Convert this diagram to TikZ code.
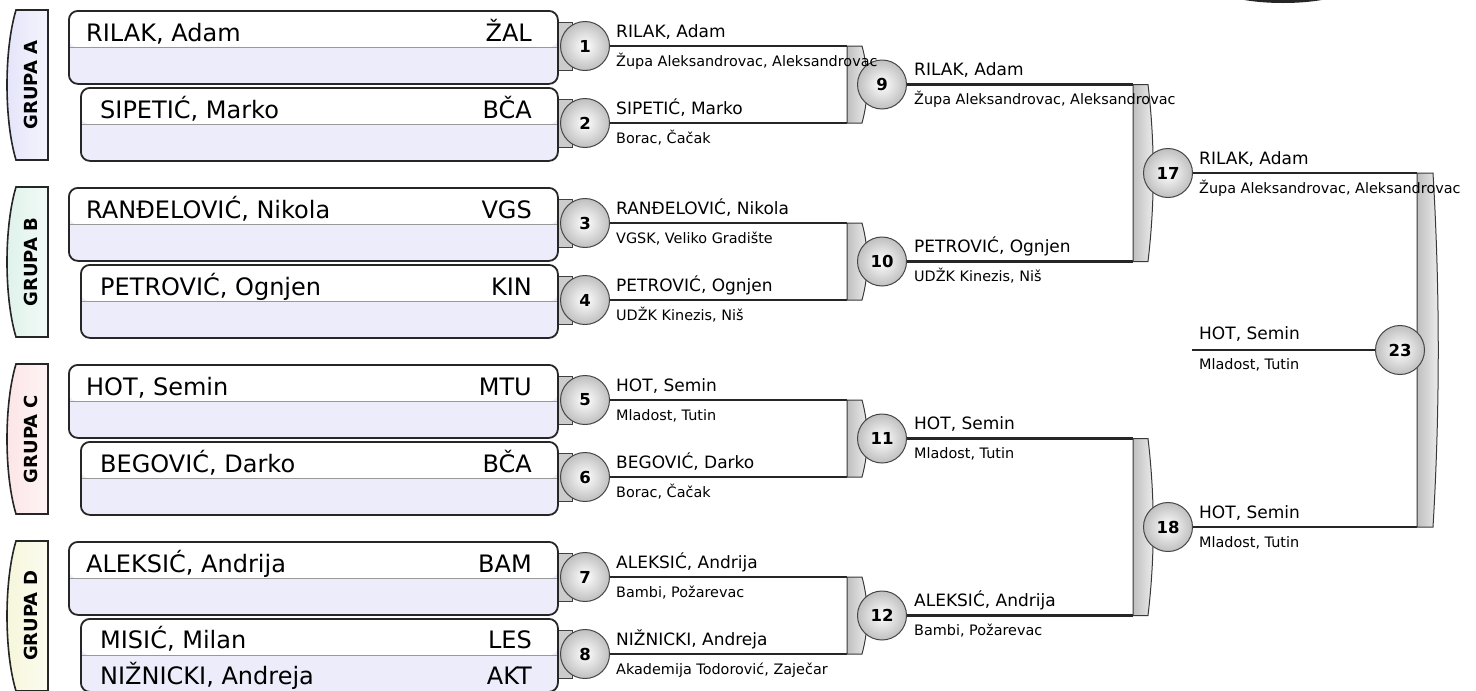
\documentclass[tikz,border=0pt]{standalone}
\usepackage{fontspec}
\setmainfont{DejaVu Sans}
\definecolor{lav}{RGB}{236,236,250}
\definecolor{grpA}{RGB}{228,228,250}
\definecolor{grpB}{RGB}{222,242,234}
\definecolor{grpC}{RGB}{252,228,230}
\definecolor{grpD}{RGB}{246,246,218}
\newcommand\bracketbar[4]{%
  \path[bar] (#1,#2) -- ({#1+#4},#2) .. controls ({#1+#4+7},{#2+(#3-#2)/3}) and ({#1+#4+7},{#3-(#3-#2)/3}) .. ({#1+#4},#3) -- (#1,#3) -- cycle;}
\newcommand\grpshape[2]{%
  \path[grp, left color=#2, right color=#2!40] (48,#1) -- (16,#1) .. controls (4,{#1+40}) and (4,{#1+110}) .. (16,{#1+150}) -- (48,{#1+150}) -- cycle;}
\begin{document}
\begin{tikzpicture}[x=1pt,y=-1pt,
  pbox/.style={draw=black!85, line width=1.8pt, rounded corners=9pt, fill=lav, anchor=north west,
    minimum height=73pt, inner sep=0pt,
    path picture={\fill[white] (path picture bounding box.north west) rectangle (path picture bounding box.east);
      \draw[gray!80, line width=1.2pt] (path picture bounding box.west) -- (path picture bounding box.east);}},
  bigname/.style={anchor=base west, inner sep=0pt, font=\fontsize{24}{28}\selectfont},
  code/.style={anchor=base east, inner sep=0pt, font=\fontsize{24}{28}\selectfont},
  lname/.style={anchor=base west, inner sep=0pt, font=\fontsize{17}{20}\selectfont},
  lclub/.style={anchor=base west, inner sep=0pt, font=\fontsize{14.4}{17}\selectfont},
  numc/.style={circle, minimum size=49pt, inner sep=0pt, draw=gray!55!black, line width=1pt,
    inner color=white, outer color=gray!50, font=\bfseries\fontsize{16.5}{17}\selectfont},
  wline/.style={line width=2.6pt, draw=black!85},
  bar/.style={draw=gray!45!black, line width=1pt, left color=gray!50, right color=gray!12},
  stub/.style={draw=gray!50!black, line width=0.8pt, fill=gray!40},
  grp/.style={draw=black!85, line width=1.6pt},
  grptext/.style={rotate=90, font=\bfseries\fontsize{18}{20}\selectfont, inner sep=0pt}
]
\useasboundingbox (0,0) rectangle (1476,691);
\clip (0,0) rectangle (1476,691);
\fill[white] (0,0) rectangle (1476,691);
% partial dark shape at top edge
\fill[black!85] (1283,-18) ellipse [x radius=75, y radius=21];

% group labels
\grpshape{10}{grpA}
\grpshape{187}{grpB}
\grpshape{364}{grpC}
\grpshape{541}{grpD}
\node[grptext] (gA) at (31,85) {GRUPA A};
\node[grptext] (gB) at (31,262) {GRUPA B};
\node[grptext] (gC) at (31,439) {GRUPA C};
\node[grptext] (gD) at (31,616) {GRUPA D};

% stubs behind round-1 circles
\foreach \c in {46,123,223,300,400,477,577,654}{
  \path[stub] (553,{\c-24}) rectangle (572,{\c+24});
}

% player boxes
\node[pbox, minimum width=489pt] (box1) at (68,10) {};
\node[pbox, minimum width=477pt] (box2) at (80,87) {};
\node[pbox, minimum width=489pt] (box3) at (68,187) {};
\node[pbox, minimum width=477pt] (box4) at (80,264) {};
\node[pbox, minimum width=489pt] (box5) at (68,364) {};
\node[pbox, minimum width=477pt] (box6) at (80,441) {};
\node[pbox, minimum width=489pt] (box7) at (68,541) {};
\node[pbox, minimum width=477pt] (box8) at (80,618) {};

\node[bigname] (p1) at (86,41) {RILAK, Adam};       \node[code] (k1) at (532,41) {ŽAL};
\node[bigname] (p2) at (100,118) {SIPETIĆ, Marko};  \node[code] (k2) at (532,118) {BČA};
\node[bigname] (p3) at (86,218) {RANĐELOVIĆ, Nikola}; \node[code] (k3) at (532,218) {VGS};
\node[bigname] (p4) at (100,295) {PETROVIĆ, Ognjen}; \node[code] (k4) at (532,295) {KIN};
\node[bigname] (p5) at (86,395) {HOT, Semin};       \node[code] (k5) at (532,395) {MTU};
\node[bigname] (p6) at (100,472) {BEGOVIĆ, Darko};  \node[code] (k6) at (532,472) {BČA};
\node[bigname] (p7) at (86,572) {ALEKSIĆ, Andrija}; \node[code] (k7) at (532,572) {BAM};
\node[bigname] (p8) at (100,648) {MISIĆ, Milan};    \node[code] (k8) at (532,648) {LES};
\node[bigname] (p8b) at (100,684) {NIŽNICKI, Andreja}; \node[code] (k8b) at (532,684) {AKT};

% round-1 circles
\node[numc] (n1) at (585,46) {1};
\node[numc] (n2) at (585,123) {2};
\node[numc] (n3) at (585,223) {3};
\node[numc] (n4) at (585,300) {4};
\node[numc] (n5) at (585,400) {5};
\node[numc] (n6) at (585,477) {6};
\node[numc] (n7) at (585,577) {7};
\node[numc] (n8) at (585,654) {8};

% junction coordinates
\coordinate (a1) at (847,46);   \coordinate (a2) at (847,123);
\coordinate (a3) at (847,223);  \coordinate (a4) at (847,300);
\coordinate (a5) at (847,400);  \coordinate (a6) at (847,477);
\coordinate (a7) at (847,577);  \coordinate (a8) at (847,654);
\coordinate (a9) at (1133,84.5);   \coordinate (a10) at (1133,261.5);
\coordinate (a11) at (1133,438.5); \coordinate (a12) at (1133,615.5);
\coordinate (a17) at (1417,173);   \coordinate (a18) at (1417,527);
\coordinate (s23) at (1192,350);

% lines round 1
\draw[wline] (n1.east) -- (a1);
\draw[wline] (n2.east) -- (a2);
\draw[wline] (n3.east) -- (a3);
\draw[wline] (n4.east) -- (a4);
\draw[wline] (n5.east) -- (a5);
\draw[wline] (n6.east) -- (a6);
\draw[wline] (n7.east) -- (a7);
\draw[wline] (n8.east) -- (a8);

% brackets round 1
\bracketbar{847}{46}{123}{15}
\bracketbar{847}{223}{300}{15}
\bracketbar{847}{400}{477}{15}
\bracketbar{847}{577}{654}{15}

\node[numc] (n9) at (882,84.5) {9};
\node[numc] (n10) at (882,261.5) {10};
\node[numc] (n11) at (882,438.5) {11};
\node[numc] (n12) at (882,615.5) {12};

\draw[wline] (n9.east) -- (a9);
\draw[wline] (n10.east) -- (a10);
\draw[wline] (n11.east) -- (a11);
\draw[wline] (n12.east) -- (a12);

\bracketbar{1133}{84.5}{261.5}{15}
\bracketbar{1133}{438.5}{615.5}{15}

\node[numc] (n17) at (1168,173) {17};
\node[numc] (n18) at (1168,527) {18};

\draw[wline] (n17.east) -- (a17);
\draw[wline] (n18.east) -- (a18);

\bracketbar{1417}{173}{527}{16}

\node[numc] (n23) at (1400,350) {23};
\draw[wline] (s23) -- (n23.west);

% round labels
\node[lname] (w1) at (616,37) {RILAK, Adam};
\node[lclub] (c1) at (616,66) {Župa Aleksandrovac, Aleksandrovac};
\node[lname] (w2) at (616,114) {SIPETIĆ, Marko};
\node[lclub] (c2) at (616,143) {Borac, Čačak};
\node[lname] (w3) at (616,214) {RANĐELOVIĆ, Nikola};
\node[lclub] (c3) at (616,243) {VGSK, Veliko Gradište};
\node[lname] (w4) at (616,291) {PETROVIĆ, Ognjen};
\node[lclub] (c4) at (616,320) {UDŽK Kinezis, Niš};
\node[lname] (w5) at (616,391) {HOT, Semin};
\node[lclub] (c5) at (616,420) {Mladost, Tutin};
\node[lname] (w6) at (616,468) {BEGOVIĆ, Darko};
\node[lclub] (c6) at (616,497) {Borac, Čačak};
\node[lname] (w7) at (616,568) {ALEKSIĆ, Andrija};
\node[lclub] (c7) at (616,597) {Bambi, Požarevac};
\node[lname] (w8) at (616,645) {NIŽNICKI, Andreja};
\node[lclub] (c8) at (616,674) {Akademija Todorović, Zaječar};

\node[lname] (w9) at (914,75.5) {RILAK, Adam};
\node[lclub] (c9) at (914,104.5) {Župa Aleksandrovac, Aleksandrovac};
\node[lname] (w10) at (914,252.5) {PETROVIĆ, Ognjen};
\node[lclub] (c10) at (914,281.5) {UDŽK Kinezis, Niš};
\node[lname] (w11) at (914,429.5) {HOT, Semin};
\node[lclub] (c11) at (914,458.5) {Mladost, Tutin};
\node[lname] (w12) at (914,606.5) {ALEKSIĆ, Andrija};
\node[lclub] (c12) at (914,635.5) {Bambi, Požarevac};

\node[lname] (w17) at (1199,164) {RILAK, Adam};
\node[lclub] (c17) at (1199,193) {Župa Aleksandrovac, Aleksandrovac};
\node[lname] (w18) at (1199,518) {HOT, Semin};
\node[lclub] (c18) at (1199,547) {Mladost, Tutin};
\node[lname] (w23) at (1199,339) {HOT, Semin};
\node[lclub] (c23) at (1199,369) {Mladost, Tutin};
\end{tikzpicture}
\end{document}
